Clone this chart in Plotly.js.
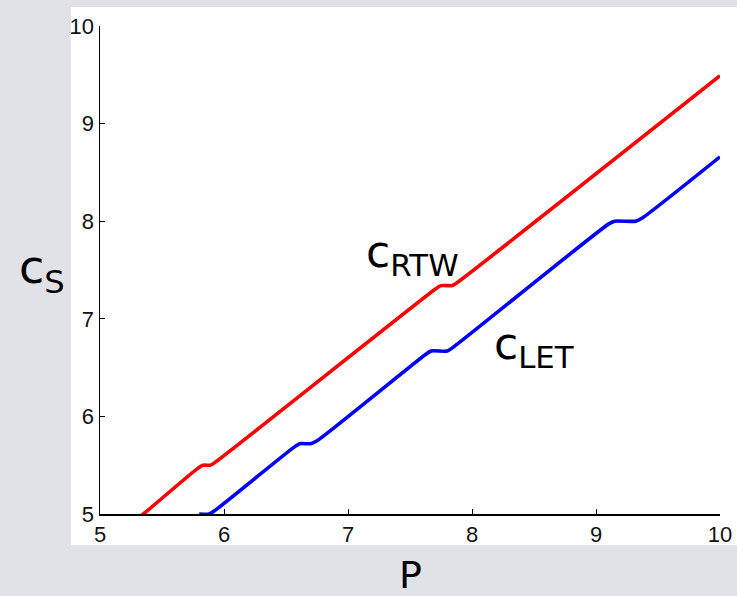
<!DOCTYPE html>
<html><head><meta charset="utf-8">
<script src="https://cdn.plot.ly/plotly-3.0.1.min.js"></script>
<style>html,body{margin:0;padding:0;background:#e1e2e7;}</style>
</head><body>
<div id="chart" style="width:737px;height:596px;"></div>
<script>
const xTicks = [5, 6, 7, 8, 9, 10];
const yTicks = [5, 6, 7, 8, 9, 10];
const pRTW = [5.0, 5.35, 5.78, 5.83, 5.89, 5.94, 7.70, 7.75, 7.84, 7.89, 10.0];
const cRTW = [4.64, 5.0, 5.46, 5.50, 5.50, 5.54, 7.30, 7.34, 7.34, 7.38, 9.49];
const pLET = [5.80, 5.88, 5.92, 6.56, 6.61, 6.70, 6.75, 7.62, 7.67, 7.80, 7.85, 9.10, 9.15, 9.32, 9.37, 10.0];
const cLET = [5.00, 5.00, 5.03, 5.68, 5.72, 5.72, 5.75, 6.63, 6.67, 6.67, 6.71, 7.97, 8.00, 8.00, 8.03, 8.66];

const labelFont = "DejaVu Sans";
const tickFont = "Liberation Sans";
const data = [
  {x: pRTW, y: cRTW, mode: 'lines', line: {color: '#ff0000', width: 3.6, shape: 'spline', smoothing: 0.6}, hoverinfo: 'skip'},
  {x: pLET, y: cLET, mode: 'lines', line: {color: '#0000ff', width: 3.6, shape: 'spline', smoothing: 0.6}, hoverinfo: 'skip'}
];
const axisCommon = {range: [5, 10], ticks: 'inside', ticklen: 5, tickcolor: '#000',
  showline: true, linecolor: '#000', linewidth: 1.5, showgrid: false, zeroline: false,
  tickfont: {family: tickFont, size: 22, color: '#111'}};
const layout = {
  width: 737, height: 596,
  margin: {l: 100, r: 17, t: 26, b: 82},
  paper_bgcolor: '#e1e2e7',
  plot_bgcolor: '#ffffff',
  showlegend: false,
  xaxis: Object.assign({}, axisCommon, {tickvals: xTicks, ticktext: xTicks.map(String)}),
  yaxis: Object.assign({}, axisCommon, {tickvals: yTicks, ticktext: yTicks.map(String)}),
  shapes: [{type: 'rect', xref: 'paper', yref: 'paper', x0: -0.047, x1: 1.03, y0: -0.064, y1: 1.039,
            fillcolor: '#ffffff', line: {width: 0}, layer: 'below'}],
  annotations: [
    {xref: 'paper', yref: 'paper', x: -0.094, y: 0.5, text: 'c<sub>S</sub>', showarrow: false,
     xanchor: 'center', yanchor: 'middle', font: {family: labelFont, size: 46, color: '#000'}},
    {xref: 'paper', yref: 'paper', x: 0.5, y: -0.125, text: 'P', showarrow: false,
     xanchor: 'center', yanchor: 'middle', font: {family: labelFont, size: 38, color: '#000'}},
    {xref: 'x', yref: 'y', x: 7.52, y: 7.66, text: 'c<sub>RTW</sub>', showarrow: false,
     xanchor: 'center', yanchor: 'middle', font: {family: labelFont, size: 44, color: '#000'}},
    {xref: 'x', yref: 'y', x: 8.50, y: 6.72, text: 'c<sub>LET</sub>', showarrow: false,
     xanchor: 'center', yanchor: 'middle', font: {family: labelFont, size: 44, color: '#000'}}
  ]
};
Plotly.newPlot('chart', data, layout, {displayModeBar: false, staticPlot: true});
</script>
</body></html>
